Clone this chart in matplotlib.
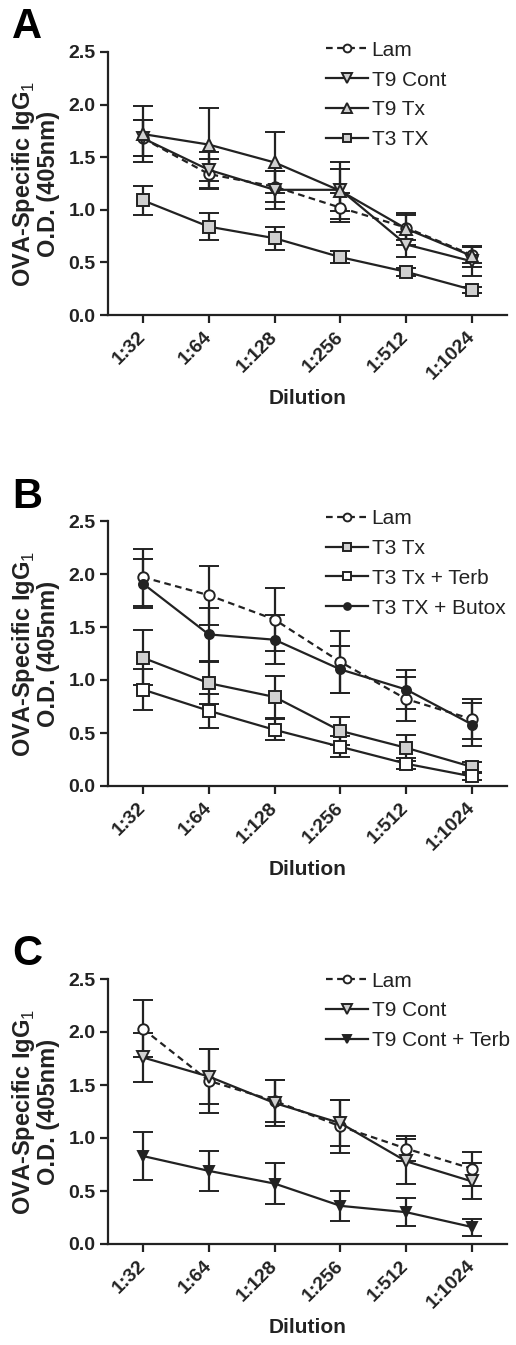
import numpy as np
import matplotlib
matplotlib.use('Agg')
import matplotlib.pyplot as plt

plt.rcParams['font.family'] = ['Liberation Sans', 'DejaVu Sans']
plt.rcParams['mathtext.fontset'] = 'custom'
plt.rcParams['mathtext.rm'] = 'Liberation Sans'
plt.rcParams['mathtext.bf'] = 'Liberation Sans:bold'

# dilution categories (shared by all panels)
dilutions = ['1:32', '1:64', '1:128', '1:256', '1:512', '1:1024']

# Panel A
a_lam = [1.68, 1.34, 1.22, 1.02, 0.83, 0.57]
a_lam_err = [0.17, 0.14, 0.15, 0.14, 0.12, 0.08]
a_t9cont = [1.68, 1.38, 1.19, 1.19, 0.67, 0.51]
a_t9cont_err = [0.17, 0.17, 0.18, 0.20, 0.12, 0.14]
a_t9tx = [1.72, 1.62, 1.45, 1.18, 0.82, 0.56]
a_t9tx_err = [0.27, 0.35, 0.29, 0.27, 0.15, 0.10]
a_t3tx = [1.09, 0.84, 0.73, 0.55, 0.41, 0.24]
a_t3tx_err = [0.14, 0.13, 0.11, 0.06, 0.04, 0.03]

# Panel B
b_lam = [1.97, 1.80, 1.57, 1.17, 0.82, 0.63]
b_lam_err = [0.27, 0.28, 0.30, 0.29, 0.21, 0.19]
b_t3tx = [1.21, 0.97, 0.84, 0.52, 0.36, 0.18]
b_t3tx_err = [0.26, 0.20, 0.20, 0.13, 0.12, 0.05]
b_terb = [0.91, 0.71, 0.53, 0.37, 0.21, 0.09]
b_terb_err = [0.19, 0.16, 0.10, 0.10, 0.05, 0.03]
b_butox = [1.91, 1.43, 1.38, 1.10, 0.91, 0.58]
b_butox_err = [0.23, 0.25, 0.23, 0.22, 0.18, 0.20]

# Panel C
c_lam = [2.03, 1.54, 1.35, 1.11, 0.90, 0.71]
c_lam_err = [0.27, 0.30, 0.20, 0.25, 0.12, 0.16]
c_t9cont = [1.76, 1.58, 1.33, 1.14, 0.78, 0.59]
c_t9cont_err = [0.23, 0.26, 0.22, 0.22, 0.21, 0.17]
c_terb = [0.83, 0.69, 0.57, 0.36, 0.30, 0.16]
c_terb_err = [0.23, 0.19, 0.19, 0.14, 0.13, 0.08]

INK = '#222222'
GREY = '#d0d0d0'

# marker styles: (marker, facecolor, size, linestyle)
STYLES = {
    'lam': ('o', 'white', 7.5, (0, (3, 2))),
    't9cont': ('v', GREY, 9, '-'),
    't9tx': ('^', GREY, 9, '-'),
    't3tx': ('s', GREY, 8.5, '-'),
    'terb_sq': ('s', 'white', 8.5, '-'),
    'butox': ('o', INK, 6.5, '-'),
    'terb_tri': ('v', INK, 7.5, '-'),
}


def draw_series(ax, y, err, style):
    marker, fc, ms, ls = STYLES[style]
    x = np.arange(len(dilutions))
    cont = ax.errorbar(x, y, yerr=err, color=INK, lw=1.6, ls=ls,
                       marker=marker, mfc=fc, mec=INK, mew=1.4, ms=ms,
                       capsize=7, capthick=1.6, elinewidth=1.6)
    # keep only the data line for the legend (no error bars there)
    return cont[0]


def style_axes(ax, handles, labels, leg_top):
    ax.set_xlim(-0.53, 5.53)
    ax.set_ylim(0, 2.5)
    ax.set_yticks([0.0, 0.5, 1.0, 1.5, 2.0, 2.5])
    ax.set_yticklabels(['0.0', '0.5', '1.0', '1.5', '2.0', '2.5'],
                       fontweight='bold', fontsize=14, color=INK)
    ax.set_xticks(np.arange(len(dilutions)))
    ax.set_xticklabels(dilutions, rotation=45, ha='right', va='center',
                       rotation_mode='anchor', fontweight='bold',
                       fontsize=14, color=INK)
    for side in ['top', 'right']:
        ax.spines[side].set_visible(False)
    for side in ['left', 'bottom']:
        ax.spines[side].set_linewidth(1.6)
        ax.spines[side].set_color(INK)
    ax.tick_params(direction='out', length=6, width=1.6, color=INK, pad=3)
    ax.tick_params(axis='x', pad=8)
    ax.set_xlabel('Dilution', fontweight='bold', fontsize=15, color=INK,
                  labelpad=4)
    ax.set_ylabel('OVA-Specific IgG$_1$\nO.D. (405nm)', fontweight='bold',
                  fontsize=17, color=INK, labelpad=6, linespacing=1.0)
    leg = ax.legend(handles, labels, loc='upper left',
                    bbox_to_anchor=(0.546, leg_top), frameon=False,
                    fontsize=15, handlelength=2.0, handletextpad=0.2,
                    labelspacing=0.52, borderpad=0, borderaxespad=0,
                    markerscale=0.75)
    for t in leg.get_texts():
        t.set_color(INK)
    return leg


fig = plt.figure(figsize=(5.16, 13.45), dpi=100)
W, H = 516.0, 1345.0


def add_axes(top_px, bottom_px):
    return fig.add_axes([108 / W, 1 - bottom_px / H, 399 / W,
                         (bottom_px - top_px) / H])


axA = add_axes(52, 315)
hA = [draw_series(axA, a_lam, a_lam_err, 'lam'),
      draw_series(axA, a_t9cont, a_t9cont_err, 't9cont'),
      draw_series(axA, a_t9tx, a_t9tx_err, 't9tx'),
      draw_series(axA, a_t3tx, a_t3tx_err, 't3tx')]
style_axes(axA, hA, ['Lam', 'T9 Cont', 'T9 Tx', 'T3 TX'], 1.043)

axB = add_axes(521, 786)
hB = [draw_series(axB, b_lam, b_lam_err, 'lam'),
      draw_series(axB, b_t3tx, b_t3tx_err, 't3tx'),
      draw_series(axB, b_terb, b_terb_err, 'terb_sq'),
      draw_series(axB, b_butox, b_butox_err, 'butox')]
style_axes(axB, hB, ['Lam', 'T3 Tx', 'T3 Tx + Terb', 'T3 TX + Butox'], 1.045)

axC = add_axes(979, 1244)
hC = [draw_series(axC, c_lam, c_lam_err, 'lam'),
      draw_series(axC, c_t9cont, c_t9cont_err, 't9cont'),
      draw_series(axC, c_terb, c_terb_err, 'terb_tri')]
style_axes(axC, hC, ['Lam', 'T9 Cont', 'T9 Cont + Terb'], 1.028)

# panel letters
for letter, y_px in [('A', 27), ('B', 497), ('C', 954)]:
    fig.text(12 / W, 1 - y_px / H, letter, fontsize=30, fontweight='bold',
             va='center', ha='left', color='black')

fig.savefig('out.png', dpi=100)
